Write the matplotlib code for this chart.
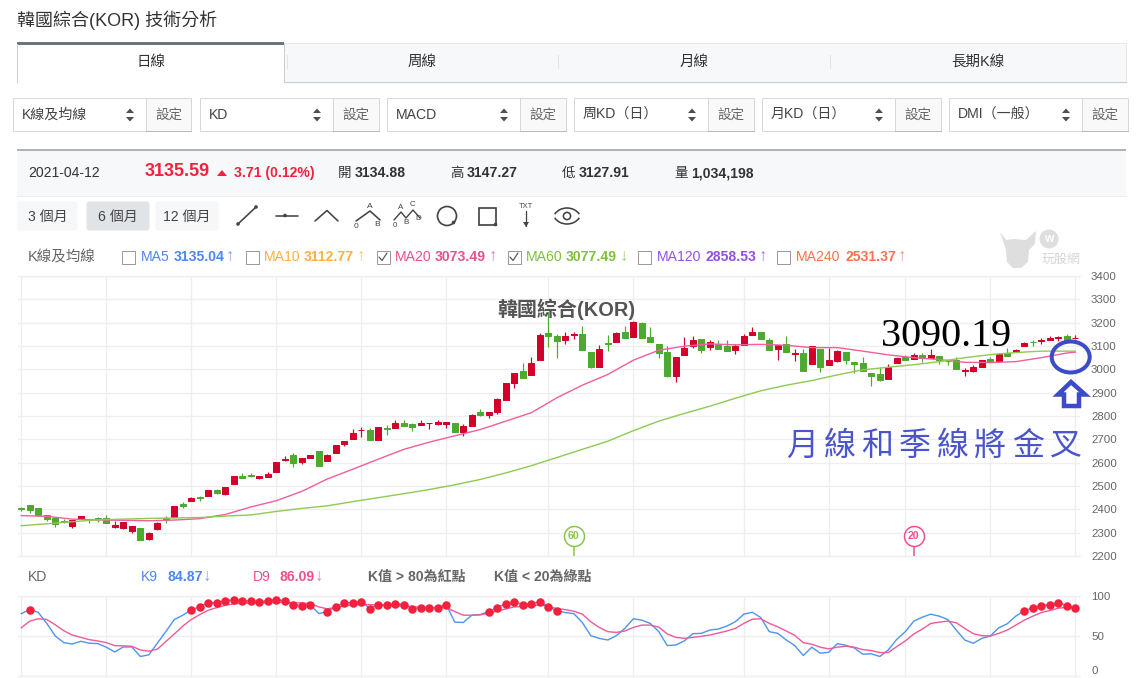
import matplotlib
matplotlib.use("Agg")
import matplotlib.pyplot as plt
from matplotlib.patches import Circle, Ellipse, FancyBboxPatch, Polygon, Rectangle, Arc

WIDTH, HEIGHT = 1146, 678
FONT = ["Liberation Sans", "Noto Sans CJK TC"]
plt.rcParams["font.family"] = FONT

# daily candles, oldest first
opens = [2404, 2417, 2404, 2374, 2361, 2351, 2330, 2358, 2355, 2362,
         2365, 2324, 2321, 2308, 2318, 2274, 2314, 2361, 2368, 2421,
         2437, 2452, 2458, 2482, 2467, 2507, 2541, 2547, 2535, 2540,
         2558, 2613, 2635, 2605, 2622, 2648, 2608, 2642, 2681, 2702,
         2738, 2742, 2698, 2747, 2749, 2768, 2764, 2762, 2768, 2765,
         2766, 2768, 2732, 2758, 2819, 2805, 2818, 2869, 2942, 2991,
         2976, 3038, 3157, 3145, 3127, 3146, 3153, 3076, 3010, 3115,
         3117, 3162, 3139, 3200, 3140, 3110, 3076, 2972, 3062, 3102,
         3132, 3096, 3110, 3102, 3083, 3103, 3149, 3162, 3127, 3088,
         3110, 3066, 3068, 3023, 3089, 3019, 3035, 3076, 3033, 3029,
         2986, 2978, 2959, 3029, 3053, 3046, 3063, 3050, 3058, 3037,
         3038, 2995, 2993, 3012, 3046, 3036, 3072, 3073, 3102, 3119,
         3122, 3126, 3136, 3145, 3134.88]
closes = [2401, 2398, 2377, 2360, 2338, 2344, 2354, 2370, 2353, 2359,
          2343, 2333, 2344, 2327, 2267, 2297, 2340, 2358, 2413, 2414,
          2447, 2450, 2485, 2471, 2494, 2541, 2535, 2545, 2545, 2550,
          2601, 2615, 2600, 2622, 2631, 2587, 2631, 2674, 2695, 2729,
          2740, 2698, 2755, 2745, 2768, 2758, 2754, 2769, 2770, 2775,
          2776, 2732, 2759, 2806, 2805, 2819, 2871, 2943, 2986, 2965,
          3029, 3149, 3143, 3123, 3145, 3152, 3085, 3010, 3089, 3110,
          3157, 3135, 3205, 3135, 3117, 3068, 2972, 3055, 3093, 3127,
          3085, 3119, 3089, 3080, 3099, 3145, 3162, 3132, 3085, 3106,
          3076, 3068, 2991, 3098, 3010, 3042, 3080, 3042, 3025, 2995,
          2972, 2955, 3010, 3050, 3042, 3062, 3048, 3063, 3039, 3035,
          3003, 2997, 3008, 3038, 3033, 3066, 3059, 3083, 3112, 3117,
          3124, 3136, 3138, 3127, 3135.59]
highs = [2410, 2417, 2404, 2374, 2368, 2360, 2354, 2370, 2360, 2368,
         2375, 2351, 2344, 2327, 2318, 2303, 2344, 2370, 2413, 2430,
         2455, 2457, 2485, 2487, 2494, 2545, 2554, 2555, 2545, 2560,
         2605, 2627, 2641, 2622, 2631, 2648, 2637, 2674, 2695, 2744,
         2751, 2748, 2755, 2763, 2782, 2781, 2769, 2781, 2771, 2782,
         2776, 2772, 2766, 2810, 2832, 2819, 2876, 2943, 2986, 3026,
         3055, 3157, 3246, 3153, 3162, 3160, 3187, 3076, 3106, 3146,
         3162, 3185, 3209, 3205, 3180, 3110, 3098, 3055, 3137, 3142,
         3132, 3125, 3127, 3127, 3110, 3153, 3180, 3162, 3136, 3106,
         3142, 3089, 3089, 3098, 3089, 3093, 3083, 3076, 3033, 3055,
         2986, 3010, 3023, 3055, 3063, 3068, 3068, 3089, 3058, 3046,
         3055, 3005, 3019, 3038, 3053, 3070, 3093, 3087, 3119, 3125,
         3136, 3143, 3145, 3153, 3147.27]
lows = [2394, 2384, 2377, 2351, 2326, 2343, 2321, 2358, 2343, 2347,
        2342, 2320, 2317, 2298, 2267, 2270, 2313, 2342, 2368, 2407,
        2437, 2437, 2458, 2467, 2461, 2507, 2535, 2538, 2531, 2540,
        2558, 2607, 2582, 2595, 2622, 2587, 2608, 2642, 2672, 2702,
        2709, 2698, 2698, 2719, 2749, 2758, 2736, 2762, 2745, 2762,
        2749, 2732, 2715, 2758, 2801, 2792, 2808, 2869, 2920, 2965,
        2976, 3038, 3096, 3049, 3109, 3132, 3085, 3006, 3010, 3079,
        3117, 3135, 3139, 3135, 3117, 3049, 2968, 2946, 3062, 3092,
        3070, 3085, 3089, 3080, 3066, 3103, 3149, 3132, 3085, 3040,
        3076, 3035, 2991, 3023, 2989, 3019, 3032, 3023, 2985, 2995,
        2929, 2950, 2959, 3029, 3042, 3046, 3030, 3050, 3023, 3019,
        3003, 2973, 2990, 3012, 3033, 3036, 3059, 3073, 3102, 3102,
        3110, 3126, 3122, 3127, 3127.91]

# moving averages, read every third session plus the last one
ma_index = list(range(0, 124, 3)) + [124]
ma20 = [2373, 2370, 2358, 2354, 2353, 2351, 2354, 2360, 2378, 2410,
        2437, 2477, 2530, 2572, 2615, 2657, 2688, 2715, 2742, 2778,
        2814, 2878, 2932, 2978, 3039, 3082, 3099, 3109, 3105, 3107,
        3103, 3093, 3093, 3078, 3062, 3050, 3042, 3030, 3029, 3033,
        3050, 3070, 3073.49]
ma60 = [2330, 2338, 2347, 2355, 2358, 2361, 2363, 2365, 2371, 2376,
        2391, 2404, 2415, 2433, 2450, 2467, 2485, 2505, 2528, 2556,
        2587, 2622, 2657, 2692, 2737, 2778, 2811, 2842, 2876, 2908,
        2932, 2952, 2976, 2998, 3009, 3020, 3033, 3050, 3063, 3072,
        3078, 3078, 3077.49]

k9 = [78, 83, 79.5, 65.7, 50, 41.7, 40, 43.4, 41, 40.5,
      36, 30, 36.3, 36.3, 24.4, 26.4, 41, 55.4, 70.6, 76,
      82.6, 86.8, 91.7, 91.7, 94.2, 95.4, 94.2, 94.2, 93, 94.2,
      95.4, 94.2, 89.2, 88, 89.2, 78, 80.6, 86.8, 91.7, 91.7,
      93, 84.3, 89.2, 89.2, 90.5, 89.2, 84.3, 85.5, 85.5, 85.5,
      89.2, 67.3, 66.9, 76, 76.8, 80.6, 85.5, 90.5, 93, 89.2,
      90.5, 93, 86.8, 81.8, 79.3, 78, 66.9, 50.4, 47, 45,
      50.4, 59.5, 71.5, 69.8, 65.7, 55.4, 38, 38.8, 43.8, 52.9,
      53.3, 57.4, 58.7, 62.4, 67.8, 77.3, 79.7, 73, 55.4, 53.3,
      45, 38, 25.6, 36, 28.5, 29.7, 40.5, 38.4, 35, 27.3,
      27.7, 24.4, 32.6, 45.9, 55.4, 68.6, 73.5, 77.3, 74.8, 70.6,
      57.4, 45, 40.9, 47, 50, 60.3, 65.3, 74.8, 81.4, 85.5,
      88, 89.2, 91.7, 88, 84.87]
d9 = [60.3, 68.6, 71.5, 70.6, 64, 56.6, 51.2, 48.3, 45.4, 43.8,
      41.7, 38, 37.6, 37.2, 32.6, 31, 33.5, 43, 52.5, 62.4,
      70.6, 76.8, 82.2, 85.5, 88.4, 90, 90.9, 91.3, 91.3, 91.7,
      91.7, 92.1, 91.7, 91.3, 90.5, 86.4, 83.9, 85.9, 87.6, 88.8,
      89.7, 89.2, 88.8, 88.4, 88, 87.6, 86.8, 85.9, 85.5, 85.5,
      85.5, 80.6, 76, 76, 76.4, 78.5, 81, 83.9, 86.4, 86.8,
      87.2, 89.2, 86.8, 84.3, 83, 81, 77.3, 67.8, 60.7, 55.4,
      54.5, 56.2, 60.7, 63.6, 63.6, 61.1, 52.5, 48.3, 47.1, 48.3,
      49.6, 51.2, 53.7, 56.2, 59.5, 65.7, 71, 71.5, 65.7, 61.5,
      56.2, 50.8, 41.7, 39.7, 36, 33.9, 36, 37.2, 36, 33,
      31.8, 29.3, 29.3, 36.8, 43.8, 52.5, 58.7, 65.7, 67.3, 68.6,
      66.5, 59.5, 52.9, 50.4, 50, 53.3, 57.4, 63.6, 69.8, 74.8,
      79.3, 81.8, 84.7, 85.9, 86.09]

grid_sessions = [0, 10, 20, 30, 40, 50, 62, 72, 85, 95, 104, 114, 124]
price_ticks = list(range(2200, 3500, 100))
kd_ticks = [0, 50, 100]

tabs = ["日線", "周線", "月線", "長期K線"]
selects = ["K線及均線", "KD", "MACD", "周KD（日）", "月KD（日）", "DMI（一般）"]
ranges = ["3 個月", "6 個月", "12 個月"]
ma_legend = [("MA5", "3135.04", "↑", "#4d86f0", False),
             ("MA10", "3112.77", "↑", "#ffb03f", False),
             ("MA20", "3073.49", "↑", "#ee4f8e", True),
             ("MA60", "3077.49", "↓", "#7cc13f", True),
             ("MA120", "2858.53", "↑", "#9350e6", False),
             ("MA240", "2531.37", "↑", "#ff7050", False)]

RED = "#d2002a"
GREEN = "#4cab2e"
MA20_COLOR = "#f0609c"
MA60_COLOR = "#8fcb52"
KD_BLUE = "#4f94ef"
KD_PINK = "#ee5a9b"
GRID = "#eeeeee"
DOT = "#f5203c"
INK_BLUE = "#3d4bc9"

px = 0.72  # points per pixel at dpi=100

fig = plt.figure(figsize=(WIDTH / 100, HEIGHT / 100), dpi=100)


def px_axes(left, top, right, bottom, **kwargs):
    return fig.add_axes([left / WIDTH, 1 - bottom / HEIGHT,
                         (right - left) / WIDTH, (bottom - top) / HEIGHT], **kwargs)


def chart_axes(top, bottom, ylim, yticks):
    # session 0 sits at x=21.3px and sessions are 8.5px apart
    ax = px_axes(18, top, 1080, bottom)
    ax.set_xlim((18 - 21.3) / 8.5, (1080 - 21.3) / 8.5)
    ax.set_ylim(*ylim)
    ax.set_xticks(grid_sessions)
    ax.set_yticks(yticks)
    ax.yaxis.tick_right()
    ax.tick_params(length=0, labelbottom=False, labelsize=11.5 * px, labelcolor="#666666", pad=11 * px)
    ax.grid(color=GRID, lw=1.3 * px)
    ax.set_axisbelow(True)
    for name, spine in ax.spines.items():
        spine.set_visible(name in ("top", "bottom"))
        spine.set_color(GRID)
        spine.set_linewidth(1.3 * px)
    return ax


def draw_candles(ax):
    for i, (o, h, l, c) in enumerate(zip(opens, highs, lows, closes)):
        color = RED if c >= o else GREEN
        ax.vlines(i, l, h, color=color, lw=1.2 * px, zorder=3)
        ax.bar(i, abs(c - o), bottom=min(o, c), width=0.68, color=color,
               edgecolor=color, lw=1.0 * px, zorder=3)


def cross_marker(ax, session, color, label):
    # round flag hanging on a stem at the bottom of the price pane
    ax.vlines(session, 2200, 2245, color=color, lw=1.5 * px, zorder=4)
    ax.plot([session], [2287], "o", ms=20 * px, mfc="white", mec=color, mew=1.5 * px, zorder=4)
    ax.text(session, 2287, label, color=color, fontsize=10.5 * px, fontweight="bold",
            ha="center", va="center", zorder=5)


price_ax = chart_axes(276, 556, (2200, 3400), price_ticks)
draw_candles(price_ax)
price_ax.plot(ma_index, ma20, color=MA20_COLOR, lw=1.4 * px, zorder=4)
price_ax.plot(ma_index, ma60, color=MA60_COLOR, lw=1.4 * px, zorder=4)
cross_marker(price_ax, 65, "#86c64a", "60")
cross_marker(price_ax, 105, "#ee4f8e", "20")

kd_ax = chart_axes(596, 676, (0, 100), kd_ticks)
sessions = range(len(k9))
kd_ax.plot(sessions, k9, color=KD_BLUE, lw=1.4 * px, zorder=3)
kd_ax.plot(sessions, d9, color=KD_PINK, lw=1.4 * px, zorder=3)
overbought = [i for i in sessions if k9[i] > 80]
kd_ax.plot(overbought, [k9[i] for i in overbought], "o", color=DOT, ms=8.5 * px, mew=0, zorder=4)
# the pane ends at the bottom of the page, keep its zero label on it
kd_ax.get_yticklabels()[0].set_va("bottom")

# page furniture around the charts, in pixel coordinates
ui = px_axes(0, 0, WIDTH, HEIGHT, zorder=5)
ui.set_xlim(0, WIDTH)
ui.set_ylim(HEIGHT, 0)
ui.axis("off")
ui.patch.set_alpha(0)


def label(x, y, s, size, color="#333333", bold=False, ha="left", **kwargs):
    return ui.text(x, y, s, fontsize=size * px, color=color, ha=ha, va="center",
                   fontweight="bold" if bold else "normal", **kwargs)


def rect(x0, y0, x1, y1, face="none", edge="none", lw=1.0):
    ui.add_patch(Rectangle((x0, y0), x1 - x0, y1 - y0, facecolor=face, edgecolor=edge, linewidth=lw * px))


def line(xs, ys, color="#444444", lw=1.6):
    ui.plot(xs, ys, color=color, lw=lw * px, solid_capstyle="round")


def dot(x, y, r=1.8, color="#444444"):
    ui.add_patch(Circle((x, y), r, color=color, lw=0))


label(17, 20, "韓國綜合(KOR) 技術分析", 18, "#333333")

# tabs
rect(284, 42.5, 1126, 81.5, face="#f7f8fa", edge="#e6e8eb")
ui.plot([284, 1126], [81.5, 81.5], color="#c9ced3", lw=1.2 * px)
ui.plot([284, 284], [44, 81.5], color="#c9ced3", lw=1 * px)
ui.plot([17, 17], [44, 81.5], color="#c9ced3", lw=1 * px)
rect(17, 42, 284, 45, face="#6c757d")
for x in (558, 830):
    ui.plot([x, x], [55, 68], color="#e2e4e7", lw=1 * px)
ui.plot([286.5, 286.5], [55, 68], color="#e2e4e7", lw=1 * px)
for x, text in zip((151, 422, 694, 978), tabs):
    label(x, 62, text, 14.5, "#333333", ha="center")

# indicator selectors
select_left = [13, 200, 387, 574, 762, 949]
select_split = [146, 333, 520, 708, 895, 1082]
select_right = [191, 379, 566, 754, 941, 1128]
for x0, xm, x1, text in zip(select_left, select_split, select_right, selects):
    rect(x0, 98, xm, 131, face="white", edge="#d5d8dc")
    rect(xm, 98, x1, 131, face="#f9f9fa", edge="#d5d8dc")
    ui.plot([xm, x1], [131, 131], color="#b4b9bf", lw=1 * px)
    label(x0 + 9, 115, text, 14, "#444444")
    ax_x = xm - 16
    ui.add_patch(Polygon([(ax_x - 4, 113), (ax_x + 4, 113), (ax_x, 108.5)], color="#495057", lw=0))
    ui.add_patch(Polygon([(ax_x - 4, 117), (ax_x + 4, 117), (ax_x, 121.5)], color="#495057", lw=0))
    label((xm + x1) / 2, 115, "設定", 13.5, "#666666", ha="center")

# quote bar
rect(17, 150, 1126, 195.5, face="#f7f8fa")
rect(17, 149, 1126, 151, face="#aeb4b9")
ui.plot([17, 1126], [195.5, 195.5], color="#ebedef", lw=1 * px)
label(28.5, 173, "2021-04-12", 14, "#333333")
label(145, 172, "3135.59", 18, DOT, bold=True)
ui.add_patch(Polygon([(217, 176), (227, 176), (222, 170)], color=DOT, lw=0))
label(233.5, 173.5, "3.71 (0.12%)", 14, DOT, bold=True)
for x, name, value in [(338, "開", "3134.88"), (450, "高", "3147.27"), (562, "低", "3127.91"), (674, "量", "1,034,198")]:
    label(x, 173, name, 13.5, "#333333")
    label(x + 17, 173, value, 14, "#333333", bold=True)

# period buttons
for x0, x1, text, face in zip((17, 86, 155), (78, 150, 219), ranges, ("#f6f7f8", "#e1e4e7", "#f6f7f8")):
    ui.add_patch(FancyBboxPatch((x0 + 1, 202), x1 - x0 - 2, 28, boxstyle="round,pad=0,rounding_size=2",
                                facecolor=face, edgecolor=face, linewidth=1 * px))
    label((x0 + x1) / 2, 216.5, text, 14, "#444444", ha="center")

# drawing tools row
line([238, 256], [224, 207])
dot(238, 224)
dot(256, 207)
line([276, 298], [215.5, 215.5])
dot(285, 215.5)
line([315, 327, 338], [221, 210.5, 221])
line([356, 370, 380], [221, 211, 220])
label(370, 206, "A", 8.5, "#444444", ha="center")
label(356, 226.5, "0", 8.5, "#444444", ha="center")
label(377, 225, "B", 8.5, "#444444", ha="center")
line([394, 401, 406, 413, 420], [220, 212, 218, 210, 218], lw=1.4)
label(401, 207.5, "A", 8, "#444444", ha="center")
label(413, 204, "C", 8, "#444444", ha="center")
label(395, 225.5, "0", 8, "#444444", ha="center")
label(406, 222.5, "B", 8, "#444444", ha="center")
label(418, 218.5, "D", 8, "#444444", ha="center")
ui.add_patch(Circle((447, 216), 9.5, facecolor="none", edgecolor="#444444", lw=1.7 * px))
dot(453.5, 222.5)
rect(478.5, 207.5, 496, 224.5, edge="#444444", lw=1.7)
dot(495.5, 224.5)
label(526, 206.5, "TXT", 7.5, "#444444", ha="center")
line([526, 526], [211, 226], lw=1.3)
ui.add_patch(Polygon([(523, 222), (529, 222), (526, 227)], color="#444444", lw=0))
ui.add_patch(Arc((567, 220), 28, 24, theta1=205, theta2=335, color="#444444", lw=1.6 * px))
ui.add_patch(Arc((567, 212), 28, 24, theta1=25, theta2=155, color="#444444", lw=1.6 * px))
ui.add_patch(Circle((567, 216), 3.6, facecolor="none", edgecolor="#444444", lw=1.6 * px))

# watermark
ui.add_patch(Polygon([(1000, 232), (1006, 240), (1014, 239), (1026, 240), (1036, 231), (1035, 244),
                      (1029, 250), (1028, 262), (1021, 268), (1013, 268), (1007, 262), (1006, 250)],
                     color="#dedede", lw=0))
ui.add_patch(Circle((1049, 239), 9.5, color="#dedede", lw=0))
label(1049, 239, "w", 12, "white", bold=True, ha="center")
label(1061.5, 260, "玩股網", 13, "#d6d6d6", ha="center")

# moving average legend
label(28, 257, "K線及均線", 14.5, "#666666")
box_x = [121, 245, 376, 507, 637, 776]
name_x = [141, 264, 395, 526, 657, 796]
value_x = [174, 304, 435, 566, 706, 845]
arrow_x = [225, 356, 488, 619, 758, 897]
for bx, nx, vx, ax_x, (name, value, arrow, color, checked) in zip(box_x, name_x, value_x, arrow_x, ma_legend):
    rect(bx + 0.5, 250.5, bx + 13.5, 263.5, face="white", edge="#9a9a9a")
    if checked:
        line([bx + 3, bx + 6, bx + 11], [257, 260.5, 253], "#555555", 1.2)
    label(nx, 257, name, 14, color)
    label(vx, 257, value, 14, color, bold=True)
    label(ax_x + 1, 256, arrow, 17, color, ha="left", alpha=0.75)

# KD legend
label(28, 577, "KD", 14, "#666666")
label(141, 577, "K9", 14, "#4d86f0")
label(167, 577, "84.87", 14, "#4d86f0", bold=True)
label(203, 576, "↓", 17, "#4d86f0", alpha=0.75)
label(253, 577, "D9", 14, "#ee4f8e")
label(279, 577, "86.09", 14, "#ee4f8e", bold=True)
label(315, 576, "↓", 17, "#ee4f8e", alpha=0.75)
label(368, 577, "K值 > 80為紅點", 14, "#666666", bold=True)
label(494, 577, "K值 < 20為綠點", 14, "#666666", bold=True)

# annotations over the price pane
label(566, 309, "韓國綜合(KOR)", 20, "#555555", bold=True, ha="center")
ui.text(946, 336, "3090.19", fontsize=40 * px, color="black", ha="center", va="center",
        family="Liberation Serif")
ui.add_patch(Ellipse((1070.7, 357), 38, 31, facecolor="none", edgecolor=INK_BLUE, lw=4 * px))
ui.add_patch(Polygon([(1071, 382), (1085, 394.5), (1079, 394.5), (1079, 406),
                      (1064, 406), (1064, 394.5), (1058, 394.5)],
                     closed=True, facecolor="white", edgecolor=INK_BLUE, lw=4.5 * px, joinstyle="miter"))
for i, ch in enumerate("月線和季線將金叉"):
    ui.text(802 + i * 37.6, 446, ch, fontsize=32 * px, color="#4a55cb", ha="center", va="center",
            family=["Noto Sans CJK TC", "DejaVu Sans"])

fig.savefig("out.png", dpi=100, facecolor="white")
